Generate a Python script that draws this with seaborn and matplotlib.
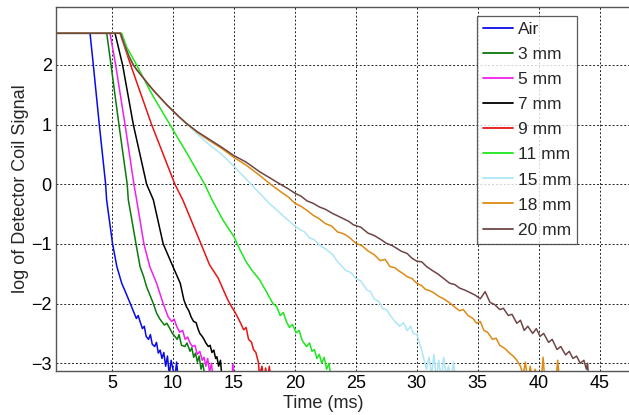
import matplotlib
matplotlib.use("Agg")
import matplotlib.pyplot as plt
import seaborn as sns
import pandas as pd

# decay curves: (time ms, log signal)
sample_names = ["Air", "3 mm", "5 mm", "7 mm", "9 mm", "11 mm", "15 mm", "18 mm", "20 mm"]
line_colors = ["#0a0ae6", "#0a7a0a", "#f020f0", "#000000", "#e61414",
               "#1ee61e", "#aee6f5", "#dc8a14", "#6e4646"]

air = [(0, 2.53), (3.2, 2.53), (3.47, 2.0), (3.96, 1.0), (4.48, 0.0), (4.56, -0.26),
       (5.05, -1.0), (5.4, -1.38), (5.8, -1.66), (6.2, -1.85), (6.5, -2.0), (6.8, -2.15),
       (7.0, -2.25), (7.15, -2.2), (7.3, -2.3), (7.5, -2.42), (7.65, -2.38), (7.8, -2.55),
       (8.0, -2.6), (8.15, -2.52), (8.3, -2.68), (8.5, -2.72), (8.65, -2.65), (8.8, -2.83),
       (8.95, -2.78), (9.1, -2.92), (9.25, -2.82), (9.4, -3.05), (9.55, -2.88), (9.7, -3.2),
       (9.85, -2.95), (10.0, -3.1), (10.15, -3.25), (10.3, -2.98), (10.45, -3.3), (10.6, -3.3)]

mm3 = [(0, 2.53), (4.57, 2.53), (4.92, 2.0), (5.57, 1.0), (6.25, 0.0), (6.34, -0.26),
       (6.97, -1.0), (7.3, -1.38), (7.6, -1.55), (7.84, -1.72), (8.1, -1.85), (8.39, -2.0),
       (8.66, -2.16), (8.9, -2.25), (9.07, -2.3), (9.3, -2.36), (9.5, -2.33), (9.75, -2.42),
       (9.95, -2.5), (10.16, -2.55), (10.35, -2.6), (10.5, -2.52), (10.7, -2.7), (10.98, -2.72),
       (11.15, -2.66), (11.4, -2.8), (11.55, -2.74), (11.7, -2.9), (11.85, -2.83), (12.0, -2.98),
       (12.15, -2.88), (12.3, -3.1), (12.45, -3.0), (12.6, -3.2), (12.8, -3.3)]

mm5 = [(0, 2.53), (4.84, 2.53), (5.3, 2.0), (6.07, 1.0), (6.8, 0.0), (7.02, -0.26),
       (7.62, -1.0), (8.1, -1.38), (8.66, -1.66), (9.2, -2.0), (9.6, -2.22), (9.9, -2.3),
       (10.1, -2.26), (10.3, -2.38), (10.55, -2.48), (10.8, -2.45), (11.0, -2.6), (11.2, -2.56),
       (11.4, -2.66), (11.6, -2.72), (11.8, -2.7), (12.0, -2.85), (12.2, -2.8), (12.4, -2.95),
       (12.55, -2.9), (12.7, -3.05), (12.85, -2.92), (13.0, -3.15), (13.15, -3.0), (13.3, -3.25),
       (13.45, -3.3), (14.85, -3.3), (14.9, -3.02), (14.95, -3.3)]

mm7 = [(0, 2.53), (5.25, 2.53), (5.87, 2.0), (6.75, 1.0), (7.84, 0.0), (8.39, -0.26),
       (9.2, -1.0), (10.0, -1.38), (10.6, -1.66), (10.9, -1.94), (11.1, -2.05), (11.3, -2.12),
       (11.5, -2.23), (11.7, -2.3), (11.9, -2.32), (12.05, -2.42), (12.2, -2.5), (12.4, -2.55),
       (12.55, -2.6), (12.7, -2.66), (12.9, -2.72), (13.05, -2.7), (13.2, -2.82), (13.35, -2.78),
       (13.5, -2.92), (13.6, -2.89), (13.75, -3.05), (13.9, -2.95), (14.0, -3.2), (14.1, -3.3)]

mm9 = [(0, 2.53), (5.66, 2.53), (6.53, 2.0), (8.25, 1.0), (10.16, 0.0), (10.8, -0.26),
       (12.2, -0.95), (13.0, -1.35), (13.7, -1.57), (14.5, -1.94), (14.8, -2.05), (15.1, -2.15),
       (15.36, -2.25), (15.6, -2.35), (15.8, -2.44), (16.0, -2.4), (16.2, -2.6), (16.45, -2.65),
       (16.6, -2.77), (16.8, -2.82), (17.0, -2.98), (17.1, -3.2), (17.3, -3.05), (17.45, -3.3),
       (17.6, -3.08), (17.75, -3.3), (17.9, -3.05), (18.05, -3.3), (18.2, -3.3)]

mm11 = [(0, 2.53), (5.8, 2.53), (6.2, 2.3), (7.02, 2.0), (8.3, 1.5), (9.75, 1.0),
        (11.2, 0.5), (12.6, 0.0), (13.2, -0.26), (14.1, -0.6), (15.0, -0.88), (15.5, -1.1),
        (16.0, -1.3), (16.5, -1.45), (17.1, -1.6), (17.6, -1.78), (18.2, -2.0), (18.5, -2.05),
        (18.8, -2.2), (19.05, -2.15), (19.3, -2.3), (19.55, -2.4), (19.8, -2.35), (20.1, -2.49),
        (20.35, -2.45), (20.6, -2.62), (20.96, -2.72), (21.2, -2.66), (21.4, -2.8), (21.6, -2.77),
        (21.8, -2.92), (22.0, -2.85), (22.2, -3.0), (22.4, -2.9), (22.6, -3.1), (22.8, -3.0),
        (23.0, -3.3)]

mm15 = [(0, 2.53), (5.7, 2.53), (6.0, 2.35), (6.4, 2.14), (6.75, 2.0), (7.1, 1.9),
        (7.5, 1.8), (8.0, 1.67), (8.5, 1.55), (9.0, 1.44), (9.5, 1.33), (10.0, 1.23),
        (10.5, 1.13), (11.1, 1.02), (12.0, 0.84), (13.0, 0.66),
        (14.0, 0.5), (15.0, 0.3), (15.7, 0.15), (16.4, 0.0), (17.1, -0.15), (18.0, -0.34),
        (18.5, -0.43), (19.2, -0.56), (20.0, -0.7), (20.4, -0.76), (20.8, -0.8), (21.2, -0.9),
        (21.6, -0.93), (22.0, -1.02), (22.5, -1.08), (23.1, -1.18), (23.5, -1.3), (24.2, -1.45),
        (24.6, -1.48), (25.0, -1.58), (25.4, -1.62), (25.9, -1.77), (26.2, -1.8), (26.5, -1.92),
        (26.9, -1.97), (27.2, -2.08), (27.5, -2.1), (27.9, -2.22), (28.2, -2.3), (28.6, -2.38),
        (28.9, -2.32), (29.2, -2.45), (29.5, -2.38), (29.7, -2.5), (30.0, -2.52), (30.2, -2.65),
        (30.4, -2.78), (30.6, -2.95), (30.8, -3.1), (31.0, -2.9), (31.2, -3.2), (31.4, -2.85),
        (31.6, -3.25), (31.8, -2.95), (32.0, -3.3), (32.2, -2.9), (32.4, -3.2), (32.6, -3.05),
        (32.8, -3.3), (33.0, -2.98), (33.2, -3.3), (33.5, -3.3)]

mm18 = [(0, 2.53), (5.7, 2.53), (6.0, 2.35), (6.4, 2.14), (6.75, 2.0), (7.1, 1.9),
        (7.5, 1.8), (8.0, 1.67), (8.5, 1.55), (9.0, 1.44), (9.5, 1.33), (10.0, 1.23),
        (10.5, 1.13), (11.1, 1.02), (12.0, 0.87), (13.0, 0.73),
        (14.0, 0.6), (15.0, 0.45), (16.0, 0.32), (17.1, 0.15), (18.0, 0.0), (19.0, -0.15),
        (19.5, -0.22), (20.0, -0.32), (20.5, -0.37), (21.0, -0.44), (21.5, -0.52), (22.0, -0.58),
        (22.5, -0.66), (23.0, -0.7), (23.5, -0.8), (24.0, -0.83), (24.4, -0.88), (25.0, -0.99),
        (25.5, -1.03), (26.0, -1.12), (26.5, -1.18), (27.0, -1.28), (27.4, -1.26), (27.8, -1.38),
        (28.2, -1.4), (28.5, -1.45), (28.9, -1.5), (29.2, -1.55), (29.6, -1.58), (30.0, -1.66),
        (30.4, -1.7), (30.7, -1.76), (31.0, -1.78), (31.4, -1.82), (31.8, -1.88), (32.2, -1.92),
        (32.7, -1.99), (33.0, -2.04), (33.5, -2.12), (33.8, -2.1), (34.2, -2.2), (34.6, -2.25),
        (34.9, -2.33), (35.2, -2.3), (35.5, -2.45), (35.8, -2.48), (36.2, -2.6), (36.5, -2.58),
        (36.8, -2.7), (37.2, -2.75), (37.6, -2.83), (37.9, -2.88), (38.2, -2.95), (38.5, -3.05),
        (38.7, -3.2), (38.9, -2.98), (39.1, -3.3), (39.3, -3.05), (39.5, -3.3), (39.7, -3.1),
        (39.9, -3.3), (40.2, -3.3), (40.35, -2.9), (40.5, -3.3), (41.4, -3.3), (41.55, -2.95),
        (41.7, -3.3)]

mm20 = [(0, 2.53), (5.7, 2.53), (6.0, 2.35), (6.4, 2.14), (6.75, 2.0), (7.1, 1.9),
        (7.5, 1.8), (8.0, 1.67), (8.5, 1.55), (9.0, 1.44), (9.5, 1.33), (10.0, 1.23),
        (10.5, 1.13), (11.1, 1.02), (12.0, 0.88), (13.0, 0.75),
        (14.0, 0.62), (15.0, 0.48), (16.0, 0.37), (17.1, 0.21), (18.0, 0.1), (18.8, 0.0),
        (19.4, -0.07), (20.0, -0.15), (20.5, -0.2), (21.0, -0.28), (21.5, -0.32), (22.0, -0.38),
        (22.5, -0.42), (23.0, -0.48), (23.6, -0.54), (24.4, -0.62), (24.8, -0.68), (25.4, -0.72),
        (26.0, -0.82), (26.5, -0.86), (27.0, -0.92), (27.5, -0.99), (28.0, -1.03), (28.7, -1.12),
        (29.2, -1.16), (29.6, -1.24), (30.0, -1.29), (30.4, -1.3), (30.8, -1.38), (31.3, -1.45),
        (31.7, -1.5), (32.2, -1.58), (32.7, -1.66), (33.1, -1.68), (33.5, -1.74), (34.0, -1.78),
        (34.4, -1.82), (34.8, -1.86), (35.2, -1.92), (35.6, -1.8), (36.0, -1.98), (36.4, -2.02),
        (36.8, -2.1), (37.1, -2.08), (37.5, -2.2), (37.8, -2.18), (38.2, -2.33), (38.5, -2.28),
        (38.8, -2.45), (39.1, -2.38), (39.5, -2.5), (39.8, -2.42), (40.1, -2.55), (40.4, -2.5),
        (40.8, -2.65), (41.1, -2.6), (41.5, -2.77), (41.8, -2.72), (42.2, -2.86), (42.5, -2.8),
        (42.8, -2.92), (43.1, -2.88), (43.4, -3.0), (43.7, -2.95), (43.9, -3.1), (44.0, -3.0),
        (44.1, -3.3), (44.3, -3.3)]

x_ticks = [5, 10, 15, 20, 25, 30, 35, 40, 45]
y_ticks = [-3, -2, -1, 0, 1, 2]

series = [air, mm3, mm5, mm7, mm9, mm11, mm15, mm18, mm20]
rows = []
for name, pts in zip(sample_names, series):
    for t, v in pts:
        rows.append((name, t, v))
df = pd.DataFrame(rows, columns=["sample", "time", "signal"])

sns.set_style("white")
plt.rcParams["font.family"] = ["Liberation Sans", "DejaVu Sans"]

fig = plt.figure(figsize=(6.29, 4.15), dpi=100)
ax = fig.add_axes([56 / 629, 44 / 415, 584 / 629, 364 / 415])

sns.lineplot(data=df, x="time", y="signal", hue="sample", hue_order=sample_names,
             palette=dict(zip(sample_names, line_colors)), sort=False, estimator=None,
             linewidth=1.1, ax=ax)

ax.set_xlim(0.41, 48.3)
ax.set_ylim(-3.13, 2.97)
ax.set_xticks(x_ticks)
ax.set_yticks(y_ticks)
ax.grid(True, color="#222222", linestyle=(0, (2, 2)), linewidth=0.7)
ax.tick_params(direction="in", length=4, labelsize=13, colors="#333333",
               labelcolor="black", pad=3)
for s in ax.spines.values():
    s.set_color("#555555")
    s.set_linewidth(1.0)

ax.set_xlabel("Time (ms)", fontsize=13, labelpad=0)
ax.set_ylabel("log of Detector Coil Signal", fontsize=13, labelpad=2)
ax.xaxis.set_label_coords(0.457, -0.065)

handles, labels = ax.get_legend_handles_labels()
leg = ax.legend(handles, labels, loc="upper left", bbox_to_anchor=(477 / 629, 1 - 16 / 415),
                bbox_transform=fig.transFigure, fontsize=12.5, frameon=True, fancybox=False,
                handlelength=1.75, handletextpad=0.25, labelspacing=0.57, borderpad=0.35,
                borderaxespad=0)
leg.get_frame().set_edgecolor("#333333")
leg.get_frame().set_linewidth(0.9)
for ln in leg.get_lines():
    ln.set_linewidth(1.3)

fig.savefig("out.png", dpi=100)
